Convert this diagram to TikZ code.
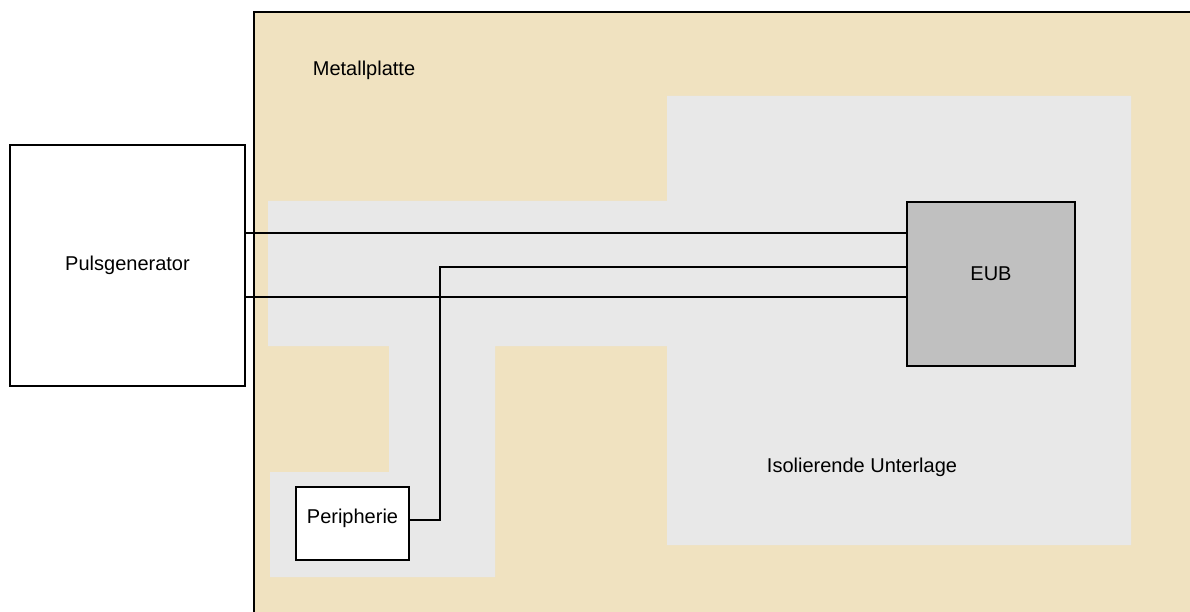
\documentclass[tikz,border=0pt]{standalone}
\usepackage{fontspec}
\setmainfont{Liberation Sans}
\usepackage{xcolor}
\usepackage{tikz}
\usetikzlibrary{calc}
\usetikzlibrary{positioning}

\definecolor{platte}{RGB}{240,226,192}
\definecolor{unterlage}{RGB}{232,232,232}
\definecolor{eubgrau}{RGB}{192,192,192}

\begin{document}
\begin{tikzpicture}[x=1pt,y=-1pt,-,auto,semithick,font=\fontsize{20}{24}\selectfont]
 				 \tikzstyle{box}=[draw, line width=1.2pt, rectangle, inner sep=0pt, fill=white]
 				 \tikzstyle{wire}=[draw, line width=1.2pt]
			\useasboundingbox (0,0) rectangle (1190,612);
			% Metallplatte
			\fill[platte] (254,12) rectangle (1190,612);
			\draw[line width=1.2pt] (1190,12) -- (254,12) -- (254,612);
			% Isolierende Unterlage
			\fill[unterlage] (268,201) -- (667,201) -- (667,96) -- (1131,96) -- (1131,545)
				-- (667,545) -- (667,346) -- (495,346) -- (495,577) -- (270,577)
				-- (270,472) -- (389,472) -- (389,346) -- (268,346) -- cycle;
			\node (platte) at (364,70) {Metallplatte};
			\node (unter) at (862,467) {Isolierende Unterlage};
			\node[box, minimum width=235pt, minimum height=241pt] (P) at (127.5,265.5) {Pulsgenerator};
			\node[box, fill=eubgrau, minimum width=168pt, minimum height=164pt,
				label={[yshift=10pt]center:EUB}] (EUB) at (991,284) {};
			\node[box, minimum width=113pt, minimum height=73pt,
				label={[yshift=5pt]center:Peripherie}] (Peri) at (352.5,523.5) {};

		 		\foreach \y in {233,297}{
		 			\draw[wire] (P.east |- 0,\y) -- (EUB.west |- 0,\y);
		 			}
			\draw[wire] (EUB.west |- 0,267) -| (440,520) -- (Peri.east |- 0,520);
 	\end{tikzpicture}
\end{document}
